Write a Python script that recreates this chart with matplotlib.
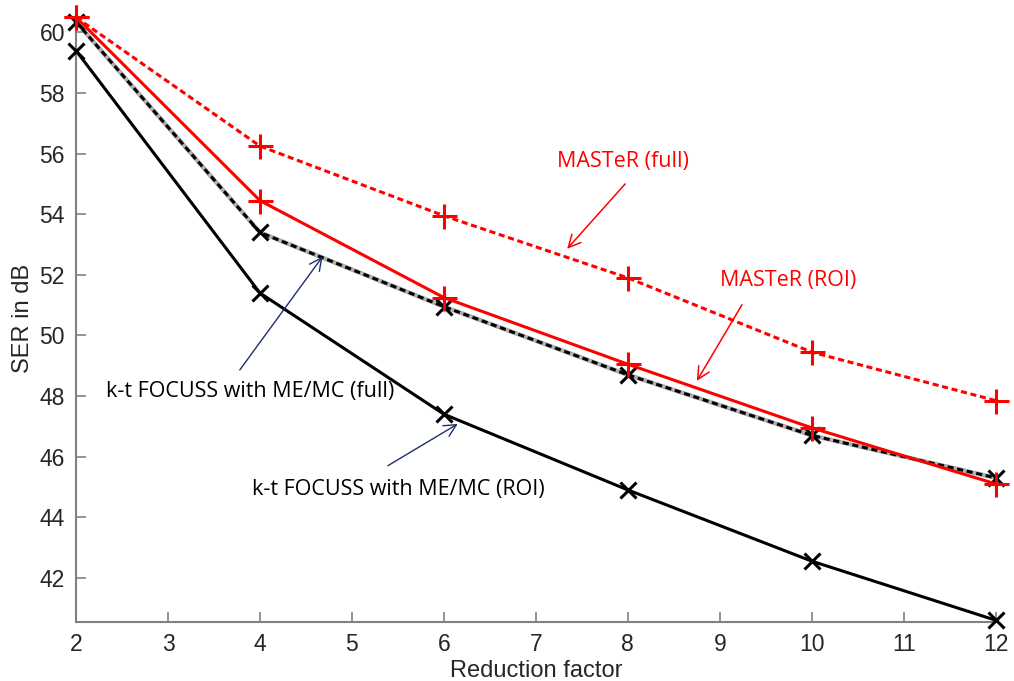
import matplotlib
matplotlib.use("Agg")
import matplotlib.pyplot as plt

x = [2, 4, 6, 8, 10, 12]
master_full = [60.5, 56.25, 53.95, 51.9, 49.45, 47.85]
master_roi = [60.5, 54.45, 51.25, 49.05, 46.95, 45.1]
ktf_full = [60.35, 53.4, 50.95, 48.7, 46.7, 45.3]
ktf_roi = [59.4, 51.4, 47.4, 44.9, 42.55, 40.6]
xticks = list(range(2, 13))
yticks = [42, 44, 46, 48, 50, 52, 54, 56, 58, 60]

fig = plt.figure(figsize=(10.14, 6.81), dpi=100)
ax = fig.add_axes([0.075, 0.087, 0.907, 0.892])

ax.plot(x, master_full, color="red", ls=(0, (2, 1.2)), lw=2.2, marker="+", ms=18, mew=2.2, zorder=4, clip_on=False)
ax.plot(x, master_roi, color="red", ls="-", lw=2.2, marker="+", ms=18, mew=2.2, zorder=4, clip_on=False)
ax.plot(x, ktf_full, color="#b0b0b0", ls="-", lw=3.2, zorder=2, clip_on=False)
ax.plot(x, ktf_full, color="black", ls=(0, (2, 1.2)), lw=2.2, marker="x", ms=12, mew=2.2, zorder=3, clip_on=False)
ax.plot(x, ktf_roi, color="black", ls="-", lw=2.2, marker="x", ms=12, mew=2.2, zorder=3, clip_on=False)

ax.set_xlim(2, 12)
ax.set_ylim(40.55, 60.6)
ax.set_xticks(xticks)
ax.set_yticks(yticks)
for s in ["top", "right"]:
    ax.spines[s].set_visible(False)
for s in ["left", "bottom"]:
    ax.spines[s].set_color("#808080")
    ax.spines[s].set_linewidth(1.5)
ax.tick_params(direction="in", length=7, width=1.2, color="#808080",
               labelsize=16.5, labelcolor="#262626", pad=8)
for lab in ax.get_xticklabels() + ax.get_yticklabels():
    lab.set_fontfamily("Liberation Sans")
ax.set_xlabel("Reduction factor", fontsize=17, color="#262626", family="Liberation Sans", labelpad=3)
ax.set_ylabel("SER in dB", fontsize=17, color="#262626", family="Liberation Sans", labelpad=4)
ax.patch.set_alpha(0)

navy = "#1f2f6b"
kw = dict(fontsize=15.5, family="Open Sans", ha="center", va="center")


def arrow(start, end, color, lw):
    ax.annotate("", xy=end, xytext=start,
                arrowprops=dict(arrowstyle="->", color=color, lw=lw, shrinkA=0, shrinkB=0,
                                mutation_scale=22))


ax.text(7.95, 55.73, "MASTeR (full)", color="red", **kw)
arrow((7.97, 55.0), (7.34, 52.86), "red", 1.1)
ax.text(9.74, 51.83, "MASTeR (ROI)", color="red", **kw)
arrow((9.24, 51.01), (8.75, 48.5), "red", 1.1)
ax.text(3.89, 48.15, "k-t FOCUSS with ME/MC (full)", color="black", **kw)
arrow((3.78, 48.86), (4.68, 52.6), navy, 1.0)
ax.text(5.5, 44.9, "k-t FOCUSS with ME/MC (ROI)", color="black", **kw)
arrow((5.39, 45.7), (6.15, 47.08), navy, 1.0)

fig.savefig("out.png", dpi=100)
